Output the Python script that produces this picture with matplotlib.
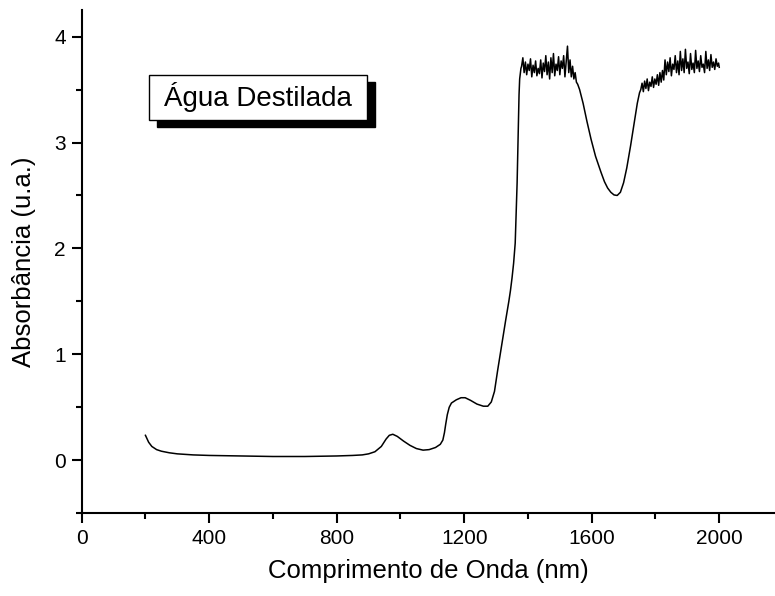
import matplotlib
matplotlib.use('Agg')
import matplotlib.pyplot as plt
from matplotlib.patches import Rectangle
from matplotlib.ticker import MultipleLocator

plt.rcParams['font.family'] = ['Liberation Sans', 'DejaVu Sans']

# Espectro da agua destilada
wl_smooth1 = [200, 210, 220, 235, 250, 275, 300, 350, 400, 500, 600, 700, 800, 850, 880,
              900, 920, 940, 955, 965, 976, 990, 1010, 1030, 1050, 1071, 1090, 1110, 1125,
              1133, 1138, 1142, 1147, 1153, 1160, 1175, 1190, 1203, 1220, 1240, 1260, 1274,
              1285, 1295, 1305, 1314, 1320, 1330, 1340, 1345, 1350, 1355, 1360, 1363, 1366,
              1368, 1370, 1372, 1374, 1378]
ab_smooth1 = [0.235, 0.17, 0.13, 0.10, 0.085, 0.07, 0.06, 0.05, 0.045, 0.04, 0.035, 0.035, 0.04, 0.045, 0.05,
              0.06, 0.08, 0.13, 0.20, 0.235, 0.245, 0.225, 0.18, 0.14, 0.11, 0.095, 0.10, 0.12, 0.15,
              0.19, 0.26, 0.34, 0.43, 0.50, 0.54, 0.57, 0.59, 0.59, 0.565, 0.53, 0.51, 0.51,
              0.55, 0.65, 0.85, 1.02, 1.13, 1.32, 1.50, 1.60, 1.72, 1.86, 2.05, 2.33, 2.62,
              2.90, 3.20, 3.45, 3.60, 3.70]

wl_noisy1 = [1380, 1384, 1388, 1392, 1396, 1400, 1404, 1408, 1412, 1416, 1420, 1424, 1428, 1432,
             1436, 1440, 1444, 1448, 1452, 1456, 1460, 1464, 1468, 1472, 1476, 1480, 1484, 1488,
             1492, 1496, 1500, 1504, 1508, 1512, 1516, 1520, 1524, 1528, 1532, 1536, 1540, 1544,
             1548, 1552, 1556]
ab_noisy1 = [3.72, 3.80, 3.66, 3.76, 3.64, 3.74, 3.68, 3.79, 3.62, 3.73, 3.66, 3.77, 3.63, 3.70,
             3.65, 3.78, 3.61, 3.75, 3.67, 3.82, 3.64, 3.76, 3.60, 3.80, 3.66, 3.84, 3.63, 3.74,
             3.68, 3.81, 3.64, 3.77, 3.70, 3.82, 3.62, 3.76, 3.91, 3.66, 3.78, 3.62, 3.72, 3.60,
             3.66, 3.57, 3.55]

wl_smooth2 = [1562, 1573, 1585, 1598, 1612, 1629, 1640, 1650, 1660, 1670, 1680, 1690, 1700,
              1710, 1722, 1733, 1743, 1750]
ab_smooth2 = [3.50, 3.37, 3.20, 3.03, 2.87, 2.72, 2.63, 2.57, 2.53, 2.505, 2.50, 2.53, 2.62,
              2.76, 2.97, 3.18, 3.37, 3.47]

wl_noisy2 = [1754, 1758, 1762, 1766, 1770, 1774, 1778, 1782, 1786, 1790, 1794, 1798, 1802, 1806,
             1810, 1814, 1818, 1822, 1826, 1830, 1834, 1838, 1842, 1846, 1850, 1854, 1858, 1862,
             1866, 1870, 1874, 1878, 1882, 1886, 1890, 1894, 1898, 1902, 1906, 1910, 1914, 1918,
             1922, 1926, 1930, 1934, 1938, 1942, 1946, 1950, 1954, 1958, 1962, 1966, 1970, 1974,
             1978, 1982, 1986, 1990, 1994, 1998, 2000]
ab_noisy2 = [3.50, 3.56, 3.48, 3.58, 3.51, 3.60, 3.49, 3.57, 3.53, 3.62, 3.52, 3.60, 3.55, 3.64,
             3.54, 3.66, 3.57, 3.68, 3.59, 3.78, 3.64, 3.76, 3.67, 3.80, 3.63, 3.74, 3.69, 3.82,
             3.66, 3.77, 3.64, 3.86, 3.68, 3.79, 3.66, 3.88, 3.70, 3.76, 3.65, 3.84, 3.69, 3.75,
             3.66, 3.87, 3.70, 3.77, 3.67, 3.82, 3.71, 3.74, 3.66, 3.86, 3.70, 3.78, 3.68, 3.83,
             3.71, 3.76, 3.69, 3.79, 3.72, 3.75, 3.71]

wavelength = wl_smooth1 + wl_noisy1 + wl_smooth2 + wl_noisy2
absorbance = ab_smooth1 + ab_noisy1 + ab_smooth2 + ab_noisy2

fig = plt.figure(figsize=(7.75, 5.96), dpi=100)
ax = fig.add_axes([0.1054, 0.139, 0.8946, 0.844])

ax.plot(wavelength, absorbance, color='black', linewidth=1.1)

ax.set_xlim(0, 2175)
ax.set_ylim(-0.5, 4.25)
ax.xaxis.set_major_locator(MultipleLocator(400))
ax.xaxis.set_minor_locator(MultipleLocator(200))
ax.yaxis.set_major_locator(MultipleLocator(1))
ax.yaxis.set_minor_locator(MultipleLocator(0.5))

ax.spines['top'].set_visible(False)
ax.spines['right'].set_visible(False)
ax.spines['left'].set_linewidth(1.5)
ax.spines['bottom'].set_linewidth(1.5)
ax.tick_params(which='major', direction='out', length=7.5, width=1.5, labelsize=15, pad=4)
ax.tick_params(which='minor', direction='out', length=4, width=1.5)

ax.set_xlabel('Comprimento de Onda (nm)', fontsize=18.5, labelpad=8)
ax.set_ylabel('Absorbância (u.a.)', fontsize=18.5, labelpad=13)

# caixa com sombra
bx, by, bw, bh = 0.0965, 0.782, 0.3155, 0.089
ax.add_patch(Rectangle((bx + 0.0115, by - 0.0139), bw, bh, transform=ax.transAxes,
                       facecolor='black', edgecolor='black', zorder=3))
ax.add_patch(Rectangle((bx, by), bw, bh, transform=ax.transAxes,
                       facecolor='white', edgecolor='black', linewidth=1.0, zorder=4))
ax.text(bx + bw / 2, by + bh / 2, 'Água Destilada', transform=ax.transAxes,
        ha='center', va='center', fontsize=20, zorder=5)

fig.savefig('out.png', dpi=100)
